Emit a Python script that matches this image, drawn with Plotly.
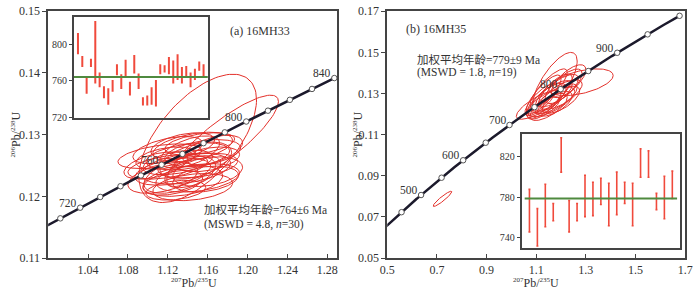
import numpy as np
import plotly.graph_objects as go

# ---------------- data ----------------
L238 = 1.55125e-10
L235 = 9.8485e-10

# panel (a) 16MH33 concordia
conc_a_span = [700, 840]
conc_a_marks = [710, 720, 730, 740, 750, 760, 770, 780, 790, 800, 810, 820, 830, 840]
conc_a_labels = [720, 760, 800, 840]
# ellipses panel (a): centre x, centre y, half-width x, half-height y, rho
ell_a_x = [1.150, 1.175, 1.112, 1.125, 1.135, 1.145, 1.130, 1.140, 1.150, 1.120, 1.135, 1.155,
           1.160, 1.115, 1.150, 1.128, 1.145, 1.108, 1.160, 1.138, 1.152, 1.125, 1.142, 1.118,
           1.158, 1.132, 1.148, 1.165, 1.145, 1.120]
ell_a_y = [0.1294, 0.1290, 0.1265, 0.1240, 0.1225, 0.1215, 0.1255, 0.1265, 0.1250, 0.1275,
           0.1282, 0.1270, 0.1240, 0.1230, 0.1230, 0.1210, 0.1280, 0.1250, 0.1260, 0.1245,
           0.1285, 0.1222, 0.1272, 0.1262, 0.1228, 0.1235, 0.1258, 0.1275, 0.1240, 0.1248]
ell_a_sx = [0.059, 0.056, 0.042, 0.038, 0.040, 0.040, 0.035, 0.042, 0.040, 0.035, 0.032, 0.038,
            0.035, 0.035, 0.042, 0.030, 0.040, 0.032, 0.032, 0.045, 0.035, 0.030, 0.030, 0.030,
            0.033, 0.036, 0.036, 0.030, 0.028, 0.040]
ell_a_sy = [0.0104, 0.0074, 0.0020, 0.0022, 0.0025, 0.0022, 0.0020, 0.0022, 0.0020, 0.0022,
            0.0021, 0.0022, 0.0024, 0.0025, 0.0023, 0.0016, 0.0024, 0.0022, 0.0020, 0.0025,
            0.0018, 0.0020, 0.0026, 0.0018, 0.0021, 0.0030, 0.0030, 0.0024, 0.0026, 0.0020]
ell_a_rho = [0.60, 0.86, 0.45, 0.40, 0.35, 0.30, 0.45, 0.40, 0.35, 0.50, 0.45, 0.40, 0.30, 0.45,
             0.35, 0.30, 0.45, 0.50, 0.40, 0.35, 0.45, 0.40, 0.55, 0.40, 0.30, 0.50, 0.45, 0.50,
             0.50, 0.45]

# inset (a): 206Pb/238U ages (Ma), bar top / bottom
inset_a_hi = [812, 787, 764, 784, 825, 769, 754, 752, 761, 778, 767, 783, 759, 788, 768,
              742, 744, 753, 761, 778, 777, 786, 782, 789, 775, 776, 769, 773, 781, 778]
inset_a_lo = [789, 775, 746, 775, 757, 753, 741, 734, 748, 766, 751, 764, 744, 768, 751,
              733, 733, 734, 732, 767, 769, 767, 757, 761, 757, 764, 753, 761, 771, 764]
mean_a = 764

# panel (b) 16MH35 concordia
conc_b_span = [400, 1000]
conc_b_marks = [450, 500, 550, 600, 650, 700, 750, 800, 850, 900, 950, 1000]
conc_b_labels = [500, 600, 700, 800, 900]
ell_b_x = [1.175, 1.280, 1.230, 0.7225, 1.11, 1.14, 1.16, 1.15, 1.18, 1.17, 1.13, 1.19,
           1.16, 1.20, 1.12, 1.175, 1.15, 1.20, 1.13, 1.21]
ell_b_y = [0.1350, 0.1355, 0.1360, 0.0788, 0.1245, 0.1265, 0.1285, 0.1235, 0.1275, 0.1305,
           0.1295, 0.1315, 0.1260, 0.1295, 0.1270, 0.1250, 0.1325, 0.1270, 0.1230, 0.1335]
ell_b_sx = [0.090, 0.130, 0.070, 0.0375, 0.090, 0.080, 0.085, 0.075, 0.085, 0.075, 0.070,
            0.080, 0.095, 0.085, 0.065, 0.070, 0.075, 0.075, 0.065, 0.075]
ell_b_sy = [0.0150, 0.0065, 0.0080, 0.0037, 0.0070, 0.0085, 0.0078, 0.0066, 0.0072, 0.0090,
            0.0095, 0.0078, 0.0072, 0.0072, 0.0078, 0.0060, 0.0095, 0.0066, 0.0055, 0.0084]
ell_b_rho = [0.72, 0.50, 0.70, 0.93, 0.78, 0.75, 0.76, 0.70, 0.74, 0.78, 0.82, 0.74, 0.70,
             0.70, 0.78, 0.66, 0.82, 0.66, 0.74, 0.74]

inset_b_hi = [788, 769, 793, 774, 839, 777, 774, 802, 795, 799, 794, 805, 795, 794, 828,
              826, 784, 801, 806]
inset_b_lo = [746, 732, 751, 757, 805, 746, 757, 761, 762, 773, 752, 763, 774, 752, 800,
              800, 768, 759, 779]
mean_b = 779

a_xticks = [1.04, 1.08, 1.12, 1.16, 1.20, 1.24, 1.28]
a_yticks = [0.11, 0.12, 0.13, 0.14, 0.15]
b_xticks = [0.5, 0.7, 0.9, 1.1, 1.3, 1.5, 1.7]
b_yticks = [0.05, 0.07, 0.09, 0.11, 0.13, 0.15, 0.17]
ia_yticks = [720, 760, 800]
ib_yticks = [740, 780, 820]

# ---------------- helpers ----------------
def conc(age_ma):
    t = np.asarray(age_ma, dtype=float) * 1e6
    return np.exp(L235 * t) - 1, np.exp(L238 * t) - 1

def ellipses(cx, cy, sx, sy, rho):
    xs, ys = [], []
    th = np.linspace(0, 2 * np.pi, 120)
    for a, b, c, d, r in zip(cx, cy, sx, sy, rho):
        xs += list(a + c * np.cos(th)) + [None]
        ys += list(b + d * (r * np.cos(th) + np.sqrt(1 - r * r) * np.sin(th))) + [None]
    return xs, ys

RED = "#e3302a"
BAR = "#f04a3c"
GREEN = "#4f8a3f"
LINE = "#1c1a2c"
SERIF = "Liberation Serif, Times New Roman, serif"
TXT = "#333333"
CJK = "Liberation Serif, Noto Sans CJK SC, serif"

fig = go.Figure()

# ---- panel a
ex, ey = ellipses(ell_a_x, ell_a_y, ell_a_sx, ell_a_sy, ell_a_rho)
fig.add_trace(go.Scatter(x=ex, y=ey, mode="lines", line=dict(color=RED, width=1),
                         xaxis="x", yaxis="y", hoverinfo="skip"))
cx, cy = conc(np.linspace(conc_a_span[0], conc_a_span[1], 200))
fig.add_trace(go.Scatter(x=cx, y=cy, mode="lines", line=dict(color=LINE, width=2.5),
                         xaxis="x", yaxis="y"))
mx, my = conc(conc_a_marks)
fig.add_trace(go.Scatter(x=mx, y=my, mode="markers",
                         marker=dict(size=5.5, color="white", line=dict(color="#555", width=1)),
                         xaxis="x", yaxis="y"))

# ---- panel b
ex, ey = ellipses(ell_b_x, ell_b_y, ell_b_sx, ell_b_sy, ell_b_rho)
fig.add_trace(go.Scatter(x=ex, y=ey, mode="lines", line=dict(color=RED, width=1),
                         xaxis="x2", yaxis="y2", hoverinfo="skip"))
cx, cy = conc(np.linspace(conc_b_span[0], conc_b_span[1], 300))
fig.add_trace(go.Scatter(x=cx, y=cy, mode="lines", line=dict(color=LINE, width=2.5),
                         xaxis="x2", yaxis="y2"))
mx, my = conc(conc_b_marks)
fig.add_trace(go.Scatter(x=mx, y=my, mode="markers",
                         marker=dict(size=5.5, color="white", line=dict(color="#555", width=1)),
                         xaxis="x2", yaxis="y2"))

# ---- inset a
ia_x = list(range(1, len(inset_a_hi) + 1))
mid = [(h + l) / 2 for h, l in zip(inset_a_hi, inset_a_lo)]
half = [(h - l) / 2 for h, l in zip(inset_a_hi, inset_a_lo)]
fig.add_trace(go.Scatter(x=ia_x, y=mid, mode="markers", marker=dict(size=0.1, color=BAR),
                         error_y=dict(type="data", array=half, color=BAR, thickness=2, width=0),
                         xaxis="x3", yaxis="y3"))
fig.add_trace(go.Scatter(x=[0, len(ia_x) + 1], y=[mean_a, mean_a], mode="lines",
                         line=dict(color=GREEN, width=2), xaxis="x3", yaxis="y3"))

# ---- inset b
ib_x = list(range(1, len(inset_b_hi) + 1))
mid = [(h + l) / 2 for h, l in zip(inset_b_hi, inset_b_lo)]
half = [(h - l) / 2 for h, l in zip(inset_b_hi, inset_b_lo)]
fig.add_trace(go.Scatter(x=ib_x, y=mid, mode="markers", marker=dict(size=0.1, color=BAR),
                         error_y=dict(type="data", array=half, color=BAR, thickness=1.6, width=1),
                         xaxis="x4", yaxis="y4"))
fig.add_trace(go.Scatter(x=[0.4, len(ib_x) + 0.6], y=[mean_b, mean_b], mode="lines",
                         line=dict(color=GREEN, width=2), xaxis="x4", yaxis="y4"))

# ---------------- axes ----------------
YDOM = [0.1098, 0.9848]
base = dict(showline=True, linecolor="#444", linewidth=1.5, mirror=True, showgrid=False,
            zeroline=False, ticklen=4, tickwidth=1, tickcolor="#444",
            ticklabeloverflow="allow",
            tickfont=dict(family=SERIF, size=12, color=TXT))

def fmt(vals, nd):
    return [f"{v:.{nd}f}" for v in vals]

fig.update_layout(
    xaxis=dict(base, domain=[42 / 700, 337 / 700], range=[1.0, 1.29], ticks="inside",
               tickvals=a_xticks, ticktext=fmt(a_xticks, 2), anchor="y"),
    yaxis=dict(base, domain=YDOM, range=[0.11, 0.15], ticks="outside",
               tickvals=a_yticks, ticktext=fmt(a_yticks, 2), anchor="x"),
    xaxis2=dict(base, domain=[388 / 700, 692 / 700], range=[0.5, 1.7], ticks="inside",
                tickvals=b_xticks, ticktext=fmt(b_xticks, 1), anchor="y2"),
    yaxis2=dict(base, domain=YDOM, range=[0.05, 0.17], ticks="outside",
                tickvals=b_yticks, ticktext=fmt(b_yticks, 2), anchor="x2"),
    xaxis3=dict(base, domain=[68 / 700, 205 / 700], range=[0, len(inset_a_hi) + 1],
                ticks="", showticklabels=False, anchor="y3"),
    yaxis3=dict(base, domain=[(296 - 116) / 296, (296 - 10) / 296], range=[720, 830],
                ticks="outside", ticklen=3, tickvals=ia_yticks,
                tickfont=dict(family=SERIF, size=10, color=TXT), anchor="x3"),
    xaxis4=dict(base, domain=[525 / 700, 687 / 700], range=[0, len(inset_b_hi) + 1],
                ticks="", showticklabels=False, anchor="y4"),
    yaxis4=dict(base, domain=[(296 - 253) / 296, (296 - 133) / 296], range=[730, 843],
                ticks="outside", ticklen=3, tickvals=ib_yticks,
                tickfont=dict(family=SERIF, size=10, color=TXT), anchor="x4"),
)

ann = []
# concordia age labels
for ages, xa, ya in [(conc_a_labels, "x", "y"), (conc_b_labels, "x2", "y2")]:
    lx, ly = conc(ages)
    for a, x, y in zip(ages, lx, ly):
        ann.append(dict(x=x, y=y, xref=xa, yref=ya, text=str(a), showarrow=False,
                        xanchor="right", yanchor="middle", xshift=-1, yshift=5,
                        font=dict(family=SERIF, size=11.5, color=TXT)))

def pann(x, y, text, xanchor="left", size=12, angle=0):
    ann.append(dict(x=x / 700, y=(296 - y) / 296, xref="paper", yref="paper", text=text,
                    showarrow=False, xanchor=xanchor, yanchor="middle", textangle=angle,
                    font=dict(family=CJK, size=size, color=TXT)))

pann(258, 25, "(a) 16MH33", xanchor="center")
pann(199, 213, "加权平均年龄=764±6 Ma", size=11.5)
pann(199, 228, "(MSWD = 4.8, <i>n</i>=30)", size=11.5)
pann(405, 23, "(b) 16MH35")
pann(416, 55, "加权平均年龄=779±9 Ma", size=11.5)
pann(416, 69, "(MSWD = 1.8, <i>n</i>=19)", size=11.5)
S = "<span style='font-size:7px'>"
xt = f"<sup>{S}207</span></sup>Pb/<sup>{S}235</span></sup>U"
yt = f"<sup>{S}206</span></sup>Pb/<sup>{S}238</span></sup>U"
pann(191, 290, xt, xanchor="center", size=12)
pann(540, 290, xt, xanchor="center", size=12)
pann(9, 134, yt, xanchor="center", size=12, angle=-90)
pann(358, 134, yt, xanchor="center", size=12, angle=-90)

fig.update_layout(annotations=ann, width=700, height=296,
                  margin=dict(l=0, r=0, t=0, b=0), paper_bgcolor="white",
                  plot_bgcolor="rgba(0,0,0,0)", showlegend=False)

fig.write_html("out.html", config={"displayModeBar": False},
               post_script="document.body.style.margin='0';document.body.style.overflow='hidden';")
